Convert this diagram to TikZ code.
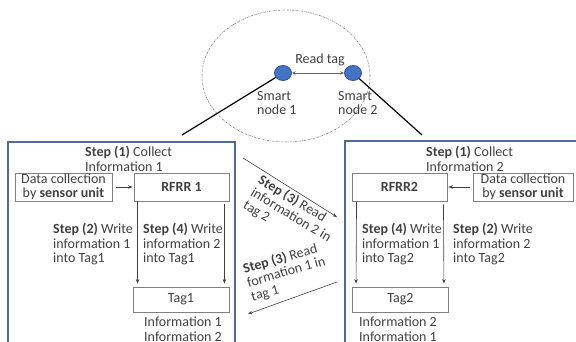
\documentclass[tikz,border=0pt]{standalone}
\usepackage{fontspec}
\setmainfont{Carlito}
\usetikzlibrary{arrows.meta,shapes.geometric}
\definecolor{txt}{HTML}{404040}
\definecolor{frame}{HTML}{4F6A9B}
\definecolor{boxline}{HTML}{808080}
\definecolor{nodefill}{HTML}{4472C4}
\definecolor{nodeedge}{HTML}{2F528F}

\begin{document}
\begin{tikzpicture}[x=1pt,y=-1pt,
  font=\fontsize{14}{14.5}\selectfont, text=txt,
  panel/.style={draw=frame,line width=1.3pt},
  unitbox/.style={draw=boxline,line width=0.9pt,minimum height=28pt,inner sep=0pt,align=center},
  tagbox/.style={unitbox,minimum width=96pt,minimum height=25pt},
  caption/.style={anchor=north west,align=left,inner sep=0pt},
  flow/.style={draw=black!75,line width=0.6pt,-{Stealth[length=4.5pt,width=3.5pt]}},
  smart/.style={ellipse,draw=nodeedge,fill=nodefill,line width=0.8pt,minimum width=17pt,minimum height=15pt,inner sep=0pt},
  link/.style={draw=black,line width=1.2pt}]

\useasboundingbox (0,0) rectangle (576,341);
\clip (0,0) rectangle (576,341);

% range of the two smart nodes
\draw[gray,line width=0.6pt,dash pattern=on 2pt off 1pt on 0.6pt off 1pt]
  (286,76) ellipse [x radius=84pt, y radius=66pt];

% the two panels
\draw[panel] (8,142) rectangle (235,360);
\draw[panel] (345,141) rectangle (600,360);

% smart nodes
\node[smart] (sn1) at (283,73) {};
\node[smart] (sn2) at (353,73) {};
\draw[draw=black!60,line width=0.7pt,{Stealth[length=4pt,width=3.5pt]}-{Stealth[length=4pt,width=3.5pt]}] (sn1) -- (sn2);
\node (readtag) at (320,60) {Read tag};
\node[caption] (sn1lbl) at (257,91) {Smart\\node 1};
\node[caption] (sn2lbl) at (338,91) {Smart\\node 2};

\coordinate (c1) at (182,135);
\coordinate (c2) at (422,135);
\draw[link] (sn1) -- (c1);
\draw[link] (sn2) -- (c2);

% left panel: smart node 1
\node[unitbox,minimum width=97pt] (dc1) at (63.5,187) {Data collection\\by \textbf{sensor unit}};
\node[unitbox,minimum width=95pt,font=\fontsize{14}{14.5}\selectfont\bfseries] (rf1) at (181.5,187) {RFRR 1};
\node[tagbox] (tag1) at (181,299.5) {Tag1};
\draw[flow,shorten <=4pt,shorten >=1pt] (dc1.east) -- (rf1.west);
\draw[flow,shorten >=3pt] ([xshift=4pt]rf1.south west) -- ([xshift=5pt]tag1.north west);
\draw[flow,shorten >=3pt] ([xshift=-5pt,yshift=-3pt]rf1.south east) -- ([xshift=-5pt]tag1.north east);

\node[caption] (s1l) at (85,146) {\textbf{Step (1)} Collect\\Information 1};
\node[caption] (s2l) at (53,223) {\textbf{Step (2)} Write\\information 1\\into Tag1};
\node[caption] (s4l) at (143,223) {\textbf{Step (4)} Write\\information 2\\into Tag1};
\node[caption] (inf1) at (144,317) {Information 1\\Information 2};

% right panel: smart node 2
\node[unitbox,minimum width=95pt,font=\fontsize{14}{14.5}\selectfont\bfseries] (rf2) at (399.5,187) {RFRR2};
\node[unitbox,minimum width=100pt] (dc2) at (523,187) {Data collection\\by \textbf{sensor unit}};
\node[tagbox] (tag2) at (400.5,299.5) {Tag2};
\draw[flow,shorten <=3pt,shorten >=1pt] (dc2.west) -- (rf2.east);
\draw[flow,shorten >=3pt] ([xshift=5pt]rf2.south west) -- ([xshift=4pt]tag2.north west);
\draw[flow,shorten >=3pt] ([xshift=-4pt,yshift=-3pt]rf2.south east) -- ([xshift=-5pt]tag2.north east);

\node[caption] (s1r) at (426,146) {\textbf{Step (1)} Collect\\Information 2};
\node[caption] (s4r) at (362,223) {\textbf{Step (4)} Write\\information 1\\into Tag2};
\node[caption] (s2r) at (453,223) {\textbf{Step (2)} Write\\information 2\\into Tag2};
\node[caption] (inf2) at (359,317) {Information 2\\Information 1};

% exchange between the tags
\coordinate (u1) at (243,158);
\coordinate (u2) at (337,217);
\draw[flow] (u1) -- (u2);
\node[caption,rotate=-31] (s3u) at (262.6,173.7) {\textbf{Step (3)} Read\\information 2 in\\tag 2};

\coordinate (l1) at (337,282);
\coordinate (l2) at (248,314);
\draw[flow] (l1) -- (l2);
\node[caption,rotate=16] (s3l) at (241.6,263.2) {\textbf{Step (3)} Read\\formation 1 in\\tag 1};
\end{tikzpicture}
\end{document}
